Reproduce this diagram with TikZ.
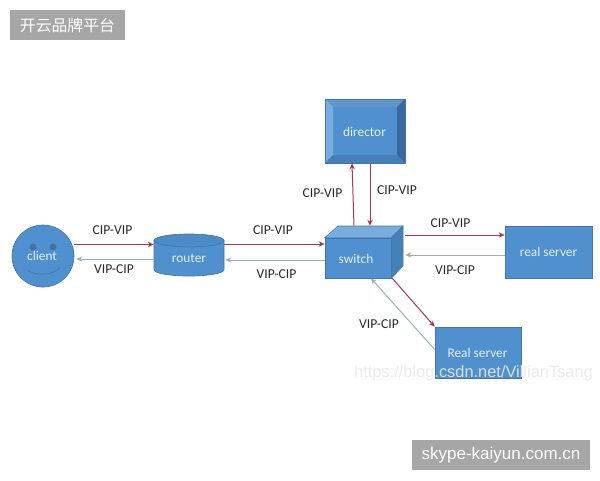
\documentclass[tikz,border=0pt]{standalone}
\usepackage{fontspec}
\setmainfont{Carlito}
\newfontfamily\cjkfont{Noto Sans CJK SC}
\newfontfamily\wmfont{Liberation Sans}
\usetikzlibrary{calc,arrows.meta}
\definecolor{bluefill}{HTML}{5090CE}
\definecolor{blueedge}{HTML}{3F78AE}
\definecolor{bluelight}{HTML}{79ACDF}
\definecolor{bluedark}{HTML}{38699A}
\definecolor{bluemid}{HTML}{4680B8}
\definecolor{redline}{HTML}{A8384F}
\definecolor{greyline}{HTML}{9FB0B2}
\definecolor{labeltext}{HTML}{2A2A2A}
\definecolor{nodetext}{HTML}{E4F0FA}
\definecolor{banner}{HTML}{A6A6A6}
\tikzset{
  x=0.75pt,y=-0.75pt,
  shapebox/.style={fill=bluefill,draw=blueedge,line width=0.5pt,text=nodetext,font=\fontsize{10pt}{11pt}\selectfont,inner sep=0pt,anchor=center},
  fwd/.style={draw=redline,line width=0.75pt,-{Stealth[length=4.5pt,width=4pt]}},
  bck/.style={draw=greyline,line width=0.75pt,-{Stealth[length=4.5pt,width=4pt]}},
  lbl/.style={text=labeltext,font=\fontsize{10.2pt}{11pt}\selectfont,inner sep=0pt},
  ntext/.style={text=nodetext,font=\fontsize{10pt}{11pt}\selectfont,inner sep=0pt},
  bannertext/.style={text=white,inner sep=0pt}
}
\begin{document}
\begin{tikzpicture}
\useasboundingbox (0,0) rectangle (600,480);
\fill[white] (0,0) rectangle (600,480);
% banners
\fill[banner] (10,10) rectangle (125,40);
\node[bannertext,font=\cjkfont\fontsize{11.9pt}{13pt}\selectfont] (bannerA) at (67.5,25.5) {开云品牌平台};
\fill[banner] (412,440) rectangle (590,470);
\node[bannertext,font=\wmfont\fontsize{12.75pt}{14pt}\selectfont] (bannerB) at (501,455) {skype-kaiyun.com.cn};
% client
\node[shapebox,circle,minimum size=46.5pt] (client) at (43,256) {};
\node[ntext] (clienttext) at (42,256) {client};
\fill[bluedark!75!bluefill] (33,247) circle (3.5);
\fill[bluedark!75!bluefill] (53,247) circle (3.5);
\draw[blueedge,line width=0.5pt] (27,270) .. controls (37,276) and (50,276) .. (60,268);
% router
\node[minimum width=52.5pt,minimum height=31.5pt,inner sep=0pt] (router) at (189,255) {};
\filldraw[fill=bluefill,draw=blueedge,line width=0.5pt] (154,240.5) -- (154,269.5) .. controls (154,273.5) and (170,276) .. (189,276) .. controls (208,276) and (224,273.5) .. (224,269.5) -- (224,240.5) -- cycle;
\filldraw[fill=bluefill!70!bluemid,draw=blueedge,line width=0.5pt] (189,240.5) ellipse [x radius=35,y radius=6.5];
\node[ntext] (routertext) at (189,258.5) {router};
% director
\node[shapebox,minimum width=60pt,minimum height=48pt] (director) at (365,131) {};
\fill[bluemid!50!bluelight] (325,99) -- (405,99) -- (397,107) -- (333,107) -- cycle;
\fill[bluelight] (325,99) -- (333,107) -- (333,155) -- (325,163) -- cycle;
\fill[bluedark] (405,99) -- (397,107) -- (397,155) -- (405,163) -- cycle;
\fill[bluemid] (325,163) -- (333,155) -- (397,155) -- (405,163) -- cycle;
\draw[blueedge,line width=0.5pt] (325,99) rectangle (405,163);
\node[ntext] (directortext) at (364.5,131.5) {director};
% switch
\node[shapebox,minimum width=49.5pt,minimum height=30pt] (switch) at (358,258) {};
\fill[bluelight,draw=blueedge,line width=0.4pt] (switch.north west) -- (338,226) -- (403,226) -- (switch.north east) -- cycle;
\fill[bluemid,draw=blueedge,line width=0.4pt] (switch.north east) -- (403,226) -- (403,266) -- (switch.south east) -- cycle;
\node[ntext] (switchtext) at (356,259) {switch};
% real servers
\node[shapebox,minimum width=65.25pt,minimum height=39pt] (realA) at (548.5,252) {real server};
\node[shapebox,minimum width=64.5pt,minimum height=38.25pt] (realB) at (478,352.5) {};
\node[ntext] (realBtext) at (477.5,353) {Real server};
% connectors
\draw[fwd] ($(client.east)+(0,-11.5)$) -- ($(router.west)+(0,-10.5)$);
\draw[bck] ($(router.west)+(0,4)$) -- ($(client.east)+(2,3)$);
\draw[fwd] ($(router.east)+(0,-11)$) -- ($(switch.west)+(0,-14)$);
\draw[bck] ($(switch.west)+(0,2)$) -- ($(router.east)+(1,5)$);
\draw[fwd] ($(switch.north)+(-4,-12)$) -- ($(director.south)+(-13,0)$);
\draw[fwd] ($(director.south)+(5,0)$) -- ($(switch.north)+(12,-12)$);
\draw[fwd] ($(switch.east)+(14,-23)$) -- ($(realA.west)+(0,-17)$);
\draw[bck] ($(realA.west)+(0,3)$) -- ($(switch.east)+(14,-3)$);
\draw[fwd] ($(switch.south east)+(1,0)$) -- ($(realB.north west)+(0,0)$);
\draw[bck] ($(realB.west)+(0,-3)$) -- ($(switch.south)+(13,0)$);
% labels
\node[lbl] (l1) at (112.5,230) {CIP-VIP};
\node[lbl] (l2) at (114,269.5) {VIP-CIP};
\node[lbl] (l3) at (273,230) {CIP-VIP};
\node[lbl] (l4) at (276.5,274.5) {VIP-CIP};
\node[lbl] (l5) at (322.5,193.5) {CIP-VIP};
\node[lbl] (l6) at (397,190.5) {CIP-VIP};
\node[lbl] (l7) at (450.5,223) {CIP-VIP};
\node[lbl] (l8) at (455,270.5) {VIP-CIP};
\node[lbl] (l9) at (379,324.5) {VIP-CIP};
% watermark
\node[text=black!9,opacity=0.9,inner sep=0pt,font=\wmfont\fontsize{12.3pt}{14pt}\selectfont] (wm) at (473.5,373) {https://blog.csdn.net/VillianTsang};
\end{tikzpicture}
\end{document}
